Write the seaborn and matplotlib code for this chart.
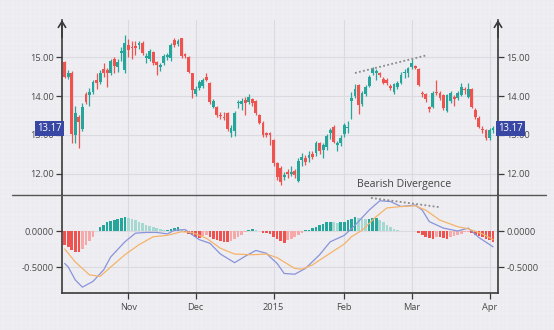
import numpy as np
import pandas as pd
import matplotlib
matplotlib.use("Agg")
import matplotlib.pyplot as plt
import seaborn as sns

# ---------------- data ----------------
opens = [14.86, 14.50, 14.60, 13.00, 13.46, 13.15, 14.05, 14.03, 14.11, 14.41,
         14.36, 14.69, 14.67, 14.58, 14.95, 14.74, 15.11, 14.67, 15.31, 15.27,
         15.28, 15.31, 15.36, 14.98, 14.95, 15.13, 14.88, 14.75, 14.84, 15.00,
         14.97, 15.43, 15.33, 15.49, 15.07, 15.00, 14.58, 14.05, 14.20, 14.26,
         14.50, 14.33, 13.73, 13.72, 13.52, 13.47, 13.56, 13.05, 13.09, 13.82,
         13.80, 13.90, 13.85, 13.93, 13.88, 13.51, 13.31, 13.05, 13.05, 12.87,
         12.28, 12.15, 11.93, 12.06, 12.00, 12.08, 11.83, 12.36, 12.41, 12.41,
         12.52, 12.53, 12.79, 12.62, 12.69, 13.05, 13.21, 12.74, 12.80, 13.03,
         13.18, 13.87, 14.00, 14.28, 13.79, 14.05, 14.26, 14.58, 14.60, 14.58,
         14.43, 14.42, 14.26, 14.11, 14.22, 14.34, 14.58, 14.58, 14.75, 14.77,
         14.69, 14.08, 14.05, 13.72, 13.72, 14.11, 14.08, 14.03, 13.62, 13.88,
         13.98, 13.95, 14.03, 14.18, 13.98, 14.18, 13.64, 13.44, 13.15, 13.13,
         12.92, 13.13]
closes = [14.50, 14.60, 13.03, 13.57, 13.33, 13.72, 13.85, 14.11, 14.36, 14.33,
          14.59, 14.60, 14.58, 14.90, 14.78, 14.88, 15.16, 15.36, 15.18, 15.22,
          15.23, 15.36, 15.10, 15.02, 15.15, 14.85, 14.80, 14.80, 15.03, 15.05,
          15.30, 15.30, 15.40, 15.03, 15.03, 14.62, 14.15, 14.18, 14.37, 14.41,
          14.41, 13.85, 13.87, 13.51, 13.48, 13.44, 13.15, 13.19, 13.57, 13.85,
          13.87, 13.82, 13.97, 13.82, 13.56, 13.32, 13.00, 13.00, 13.00, 12.28,
          11.92, 11.80, 11.97, 12.00, 12.06, 11.98, 12.32, 12.44, 12.30, 12.49,
          12.44, 12.79, 12.60, 12.74, 12.97, 13.13, 12.83, 12.80, 12.92, 13.26,
          13.21, 13.96, 14.18, 13.77, 14.08, 14.24, 14.50, 14.69, 14.63, 14.54,
          14.33, 14.33, 14.20, 14.30, 14.34, 14.54, 14.62, 14.71, 14.85, 14.72,
          14.28, 14.04, 13.92, 13.67, 14.08, 14.07, 13.95, 13.69, 14.03, 14.08,
          13.92, 14.08, 14.24, 14.15, 14.18, 13.73, 13.46, 13.21, 13.12, 12.92,
          13.13, 13.17]
highs = [14.90, 14.66, 14.63, 13.75, 13.52, 13.82, 14.10, 14.20, 14.42, 14.60,
         14.66, 14.85, 14.72, 14.95, 15.00, 14.95, 15.25, 15.57, 15.45, 15.40,
         15.42, 15.40, 15.40, 15.10, 15.20, 15.15, 14.90, 14.85, 15.08, 15.10,
         15.35, 15.48, 15.45, 15.50, 15.10, 15.02, 14.60, 14.25, 14.42, 14.45,
         14.58, 14.35, 13.92, 13.75, 13.60, 13.60, 13.60, 13.25, 13.62, 13.90,
         13.95, 13.98, 14.05, 13.96, 13.90, 13.55, 13.35, 13.08, 13.08, 12.90,
         12.30, 12.20, 12.05, 12.12, 12.20, 12.12, 12.40, 12.55, 12.48, 12.60,
         12.58, 12.85, 12.82, 12.80, 13.02, 13.18, 13.25, 12.85, 13.00, 13.30,
         13.35, 14.10, 14.30, 14.30, 14.12, 14.28, 14.55, 14.75, 14.68, 14.62,
         14.48, 14.46, 14.30, 14.34, 14.38, 14.62, 14.70, 14.75, 14.95, 14.80,
         14.72, 14.12, 14.08, 13.75, 14.12, 14.40, 14.12, 14.06, 14.06, 14.12,
         14.02, 14.12, 14.33, 14.22, 14.33, 14.20, 13.68, 13.48, 13.22, 13.16,
         13.18, 13.22]
lows = [14.45, 14.44, 12.79, 12.80, 12.67, 13.10, 13.80, 13.75, 14.05, 14.18,
        14.30, 14.50, 14.24, 14.55, 14.60, 14.62, 14.90, 14.60, 15.00, 14.95,
        15.05, 15.20, 15.05, 14.85, 14.90, 14.80, 14.55, 14.65, 14.80, 14.92,
        14.90, 15.25, 15.28, 14.98, 14.98, 14.58, 13.95, 14.00, 14.15, 14.20,
        14.38, 13.80, 13.68, 13.45, 13.40, 13.38, 13.10, 12.95, 12.98, 13.70,
        13.65, 13.50, 13.80, 13.75, 13.52, 13.28, 12.96, 12.95, 12.75, 12.20,
        11.85, 11.72, 11.85, 11.90, 11.95, 11.90, 11.80, 12.20, 12.22, 12.30,
        12.38, 12.45, 12.50, 12.40, 12.62, 12.90, 12.80, 12.60, 12.72, 12.95,
        13.05, 13.40, 13.95, 13.55, 13.75, 14.00, 14.22, 14.55, 14.40, 14.50,
        14.30, 14.28, 14.15, 14.06, 14.18, 14.30, 14.45, 14.50, 14.70, 14.68,
        14.25, 13.98, 13.85, 13.58, 13.70, 14.02, 13.90, 13.65, 13.60, 13.82,
        13.75, 13.90, 14.00, 14.05, 13.95, 13.70, 13.40, 13.18, 13.05, 12.88,
        12.88, 13.05]

hist = [-0.20, -0.22, -0.27, -0.29, -0.29, -0.25, -0.20, -0.14, -0.08, 0.00,
        0.05, 0.09, 0.12, 0.14, 0.15, 0.16, 0.18, 0.20, 0.18, 0.16,
        0.15, 0.13, 0.11, 0.09, 0.07, 0.05, 0.04, 0.03, 0.02, 0.02,
        0.03, 0.04, 0.05, 0.02, -0.02, -0.04, -0.06, -0.08, -0.10, -0.07,
        -0.06, -0.09, -0.11, -0.13, -0.14, -0.15, -0.15, -0.14, -0.11, -0.08,
        -0.05, -0.02, 0.02, 0.03, 0.01, 0.00, -0.03, -0.03, -0.04, -0.08,
        -0.11, -0.14, -0.16, -0.13, -0.11, -0.09, -0.06, -0.03, 0.01, 0.02,
        0.04, 0.06, 0.08, 0.10, 0.12, 0.13, 0.12, 0.11, 0.12, 0.13,
        0.15, 0.17, 0.20, 0.18, 0.17, 0.16, 0.17, 0.18, 0.18, 0.15,
        0.12, 0.09, 0.06, 0.03, 0.01, 0.00, 0.00, 0.00, 0.00, 0.00,
        -0.03, -0.06, -0.08, -0.10, -0.11, -0.08, -0.09, -0.10, -0.11, -0.08,
        -0.07, -0.05, -0.04, -0.02, -0.01, -0.03, -0.05, -0.07, -0.09, -0.11,
        -0.13, -0.15]

macd_bar = [0, 1, 3, 5, 8, 11, 13, 17, 20, 23, 26, 29, 31, 34, 38, 41, 44, 48, 51, 54,
            57, 58, 60, 62, 65, 68, 72, 75, 79, 82, 86, 89, 92, 95, 99, 101, 103, 107,
            111, 114, 117, 121]
macd_val = [-0.45, -0.50, -0.68, -0.78, -0.70, -0.54, -0.36, -0.15, -0.03, -0.02, -0.02,
            -0.04, 0.01, 0.02, -0.12, -0.17, -0.32, -0.44, -0.35, -0.27, -0.31, -0.36,
            -0.45, -0.59, -0.60, -0.52, -0.33, -0.15, -0.06, 0.08, 0.29, 0.42, 0.41,
            0.34, 0.36, 0.29, 0.13, 0.04, 0.00, 0.04, -0.09, -0.22]
signal_bar = [0, 3, 7, 10, 13, 17, 21, 25, 29, 33, 36, 40, 44, 48, 53, 57, 60, 62, 65, 67,
              70, 74, 79, 81, 84, 88, 91, 95, 99, 102, 106, 111, 114, 118, 121]
signal_val = [-0.25, -0.43, -0.61, -0.63, -0.50, -0.33, -0.19, -0.08, -0.06, -0.01, -0.02,
              -0.10, -0.24, -0.32, -0.33, -0.32, -0.37, -0.43, -0.52, -0.53, -0.47, -0.34,
              -0.18, -0.08, 0.01, 0.20, 0.32, 0.34, 0.35, 0.29, 0.15, 0.06, 0.03, -0.04,
              -0.12]

holidays = ["2014-11-27", "2014-12-25", "2015-01-01", "2015-01-19", "2015-02-16"]
month_labels = ["Nov", "Dec", "2015", "Feb", "Mar", "Apr"]
price_ticks = [12, 13, 14, 15]
macd_ticks = [-0.5, 0.0]

div_price_bar = [82, 102.5]
div_price_val = [14.59, 15.05]
div_macd_bar = [86.5, 106]
div_macd_val = [0.46, 0.33]
annot_text = "Bearish Divergence"
last_price = closes[-1]

# ---------------- derived ----------------
dates = pd.bdate_range("2014-10-08", "2015-04-02")
dates = dates[~dates.isin(pd.to_datetime(holidays))]
idx = np.arange(len(dates))
month_pos = []
for k in range(1, len(dates)):
    if dates[k].month != dates[k - 1].month:
        month_pos.append(idx[k])

o = np.array(opens); c = np.array(closes)
h = np.array(highs); l = np.array(lows)
UP = "#26a69a"; DN = "#ef5350"
UP_L = "#a4d8d1"; DN_L = "#f6a9a8"
candle_col = [UP if cc >= oo else DN for oo, cc in zip(o, c)]
hv = np.array(hist)
hist_col = []
for i, v in enumerate(hv):
    prev = hv[i - 1] if i > 0 else v
    if v >= 0:
        hist_col.append(UP if v >= prev else UP_L)
    else:
        hist_col.append(DN if v <= prev else DN_L)

# ---------------- style ----------------
sns.set_theme(style="white")
plt.rcParams["font.family"] = ["Open Sans", "DejaVu Sans"]
BG = "#efeff3"
GRID = "#dadae0"
SPINE = "#3a3a3a"
TXT = "#4a4a4a"

fig = plt.figure(figsize=(5.54, 3.30), dpi=100, facecolor=BG)

# fine paper grid
bg = fig.add_axes([0, 0, 1, 1], zorder=-5)
bg.set_xlim(0, 554); bg.set_ylim(0, 330); bg.axis("off")
for v in np.arange(1, 554, 4.5):
    bg.axvline(v, color="#e8e8ed", lw=0.35)
for v in np.arange(1, 330, 4.5):
    bg.axhline(v, color="#e8e8ed", lw=0.35)

W = 436 / 554
ax1 = fig.add_axes([62 / 554, 135 / 330, W, 175 / 330])
ax2 = fig.add_axes([62 / 554, 37 / 330, W, 98 / 330])
XL = (-0.76, 122.4)
for ax in (ax1, ax2):
    ax.set_facecolor("none")
    ax.set_xlim(*XL)
    ax.set_xticks(month_pos)
    ax.grid(True, color=GRID, lw=0.8)
    ax.set_axisbelow(True)
    for s in ("left", "right"):
        ax.spines[s].set_color(SPINE); ax.spines[s].set_linewidth(1.2)
    ax.spines["top"].set_visible(False)
    ax.tick_params(axis="y", left=True, right=True, labelleft=True, labelright=True,
                   length=4, width=0.9, color=SPINE, labelsize=6.7, labelcolor=TXT,
                   direction="out", pad=2)

ax1.spines["bottom"].set_visible(False)
ax1.tick_params(axis="x", bottom=False, labelbottom=False, length=0)
ax2.spines["bottom"].set_color(SPINE); ax2.spines["bottom"].set_linewidth(1.2)
ax2.tick_params(axis="x", bottom=True, length=4, width=0.9, color=SPINE,
                labelsize=6.7, labelcolor=TXT, direction="out", pad=3)
ax2.set_xticklabels(month_labels)

# price panel
ax1.set_ylim(11.46, 15.95)
ax1.set_yticks(price_ticks)
ax1.set_yticklabels([f"{t:.2f}" for t in price_ticks])
ax1.vlines(idx, l, h, colors=candle_col, lw=0.9, zorder=3)
body_h = np.maximum(np.abs(c - o), 0.025)
ax1.bar(idx, body_h, bottom=np.minimum(o, c), width=0.8, color=candle_col,
        linewidth=0, zorder=4)
ax1.plot(div_price_bar, div_price_val, ls=(0, (1, 1.3)), color="#8a8a8a", lw=1.3, zorder=5)
ax1.text(np.mean(div_macd_bar) - 0.5, 11.72, annot_text, ha="center", va="center",
         fontsize=7.6, color="#444444", zorder=6)

for xa, ha in ((0, "right"), (1, "left")):
    ax1.text(xa, last_price, f"{last_price:.2f}", transform=ax1.get_yaxis_transform(),
             ha=ha, va="center", color="white", fontsize=6.9, zorder=10, clip_on=False,
             bbox=dict(boxstyle="square,pad=0.22", fc="#3847a3", ec="none"))

for xa in (0, 1):
    ax1.annotate("", xy=(xa, 1.0), xycoords="axes fraction", xytext=(xa, 0.9),
                 arrowprops=dict(arrowstyle="->,head_length=0.35,head_width=0.22",
                                 lw=1.2, color=SPINE, shrinkA=0, shrinkB=0))

# MACD panel
ax2.set_ylim(-0.861, 0.5)
ax2.set_yticks(macd_ticks)
ax2.set_yticklabels([f"{t:.4f}" for t in macd_ticks])
ax2.bar(idx, hv, width=0.75, color=hist_col, linewidth=0, zorder=3)
sns.lineplot(x=macd_bar, y=macd_val, ax=ax2, color="#8893da", lw=0.9, zorder=4)
sns.lineplot(x=signal_bar, y=signal_val, ax=ax2, color="#f5b36a", lw=0.9, zorder=4)
ax2.plot(div_macd_bar, div_macd_val, ls=(0, (1, 1.3)), color="#8a8a8a", lw=1.3, zorder=5)
ax2.set_xlabel(""); ax2.set_ylabel("")

# separator
fig.add_artist(plt.Line2D([12 / 554, 546 / 554], [135 / 330, 135 / 330],
                          color="#555555", lw=1.0))

fig.savefig("out.png", dpi=100, facecolor=BG)
